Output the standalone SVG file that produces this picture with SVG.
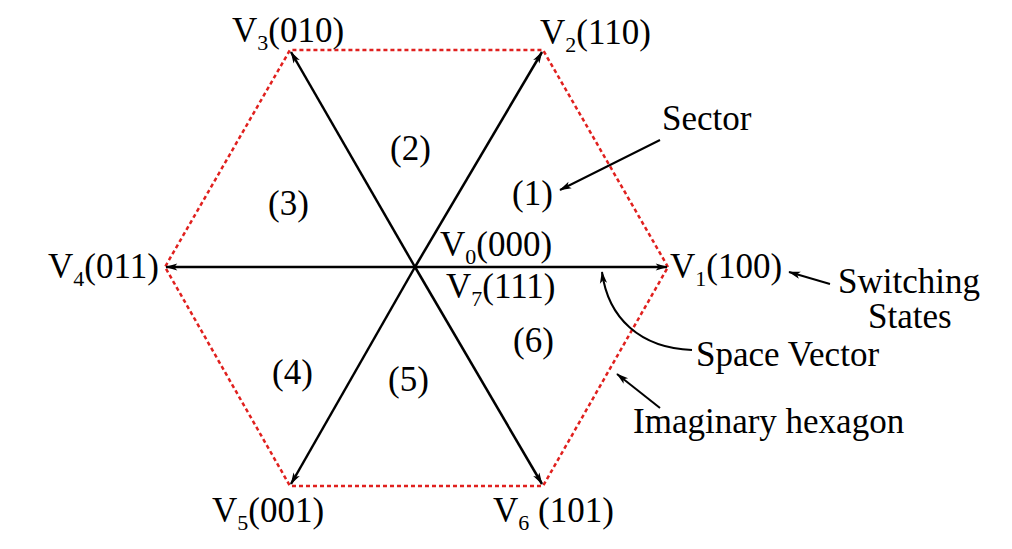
<svg xmlns="http://www.w3.org/2000/svg" width="1012" height="549" viewBox="0 0 1012 549">
<style>
text{font-family:'Liberation Serif','Times New Roman','DejaVu Serif',serif;font-size:35px;fill:#000}
.sub{font-size:22px}
.v{stroke:#000;stroke-width:2.5;fill:none;marker-end:url(#a)}
.n{stroke:#000;stroke-width:2;fill:none;marker-end:url(#a)}
</style>
<defs>
<marker id="a" viewBox="0 0 20 12" refX="19" refY="6" markerWidth="10" markerHeight="6" markerUnits="userSpaceOnUse" orient="auto" overflow="visible">
<path d="M0,0 L20,6 L0,12 L5,6 Z" fill="#000" transform="scale(1.2) translate(-3,-1)"/>
</marker>
</defs>
<rect width="1012" height="549" fill="#fff"/>
<g id="hexagon"><polygon points="668,267 543,50 290,50 165,267 290,486 543,486" fill="none" stroke="#e0201e" stroke-width="2.5" stroke-dasharray="4,3"/></g>
<g id="connectors">
<line class="v" x1="415" y1="267" x2="667" y2="267"/>
<line class="v" x1="415" y1="267" x2="542" y2="52"/>
<line class="v" x1="415" y1="267" x2="291" y2="52"/>
<line class="v" x1="415" y1="267" x2="166" y2="267"/>
<line class="v" x1="415" y1="267" x2="291" y2="484"/>
<line class="v" x1="415" y1="267" x2="542" y2="484"/>
<line class="n" x1="660" y1="140" x2="560" y2="190"/>
<line class="n" x1="830" y1="284" x2="789" y2="272"/>
<path class="n" d="M692,350 C640,348 608,318 602,272"/>
<line class="n" x1="660" y1="408" x2="617" y2="374"/>
</g>
<g id="labels">
<text x="232" y="42">V<tspan class="sub" dy="8">3</tspan><tspan dy="-8">(010)</tspan></text>
<text x="540" y="44">V<tspan class="sub" dy="8">2</tspan><tspan dy="-8">(110)</tspan></text>
<text x="48" y="278">V<tspan class="sub" dy="8">4</tspan><tspan dy="-8">(011)</tspan></text>
<text x="670" y="278">V<tspan class="sub" dy="8">1</tspan><tspan dy="-8">(100)</tspan></text>
<text x="212" y="522">V<tspan class="sub" dy="8">5</tspan><tspan dy="-8">(001)</tspan></text>
<text x="493" y="522">V<tspan class="sub" dy="8">6</tspan><tspan dy="-4"> </tspan><tspan dy="-4">(101)</tspan></text>
<text x="440" y="256">V<tspan class="sub" dy="8">0</tspan><tspan dy="-8">(000)</tspan></text>
<text x="446" y="298">V<tspan class="sub" dy="8">7</tspan><tspan dy="-8">(111)</tspan></text>
<text x="512" y="205">(1)</text>
<text x="390" y="160">(2)</text>
<text x="268" y="215">(3)</text>
<text x="272" y="384">(4)</text>
<text x="388" y="391">(5)</text>
<text x="513" y="352">(6)</text>
<text x="662" y="130">Sector</text>
<text x="838" y="293">Switching</text>
<text x="868" y="328">States</text>
<text x="696" y="366">Space Vector</text>
<text x="633" y="433">Imaginary hexagon</text>
</g>
</svg>
